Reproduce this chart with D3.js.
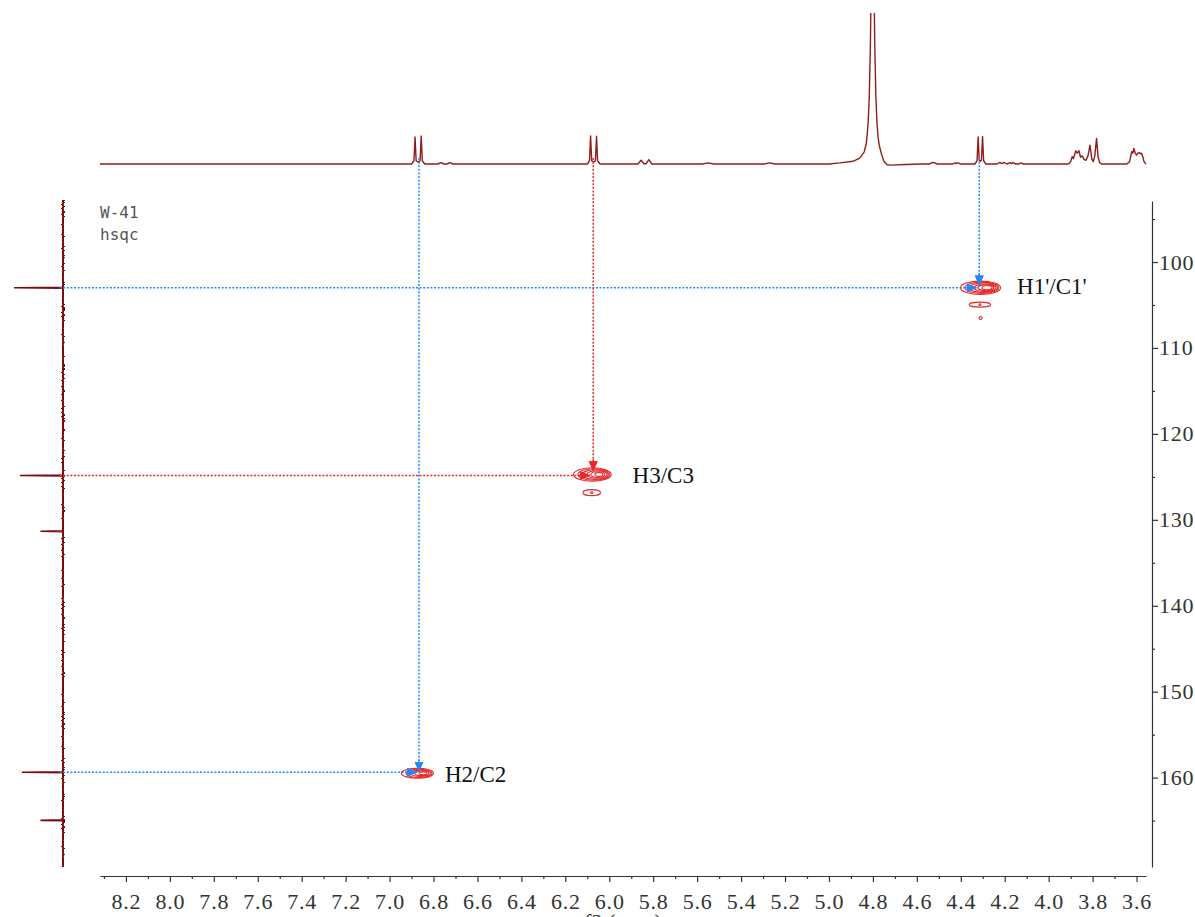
<!DOCTYPE html>
<html>
<head>
<meta charset="utf-8">
<script src="https://cdn.jsdelivr.net/npm/d3@7/dist/d3.min.js"></script>
<style>
  html, body { margin: 0; padding: 0; background: #fff; overflow: hidden; }
  svg { display: block; }
</style>
</head>
<body>
<div id="chart"></div>
<script>
// 1H trace on top: shift (ppm) and relative intensity
const topPpm = [
  8.318,
  6.900, 6.889, 6.884, 6.879, 6.870, 6.861, 6.856, 6.851, 6.840,
  6.780, 6.766, 6.752, 6.738, 6.725, 6.712,
  6.100, 6.090, 6.085, 6.080, 6.0715, 6.063, 6.058, 6.053, 6.042,
  5.870, 5.855, 5.842, 5.832, 5.820, 5.806,
  5.575, 5.550, 5.525, 5.295, 5.270, 5.245,
  5.000, 4.950, 4.890, 4.860, 4.840, 4.830, 4.8265, 4.8215, 4.8165, 4.8115, 4.809, 4.8045,
  4.8015, 4.7985, 4.794, 4.7915, 4.7865, 4.7815, 4.7765, 4.7715, 4.7615, 4.750, 4.735, 4.720, 4.650, 4.580,
  4.545, 4.526, 4.507, 4.435, 4.427, 4.420, 4.413, 4.400,
  4.336, 4.326, 4.321, 4.316, 4.311, 4.306, 4.301, 4.296, 4.286,
  4.235, 4.222, 4.213, 4.204, 4.190, 4.176, 4.169, 4.163, 4.150, 4.135, 4.127, 4.118,
  3.910, 3.900, 3.893, 3.887, 3.877, 3.870, 3.862, 3.855, 3.847, 3.838, 3.830, 3.821,
  3.812, 3.804, 3.797, 3.790, 3.782, 3.775, 3.768, 3.759,
  3.645, 3.632, 3.622, 3.617, 3.612, 3.606, 3.600, 3.594, 3.589, 3.583, 3.577, 3.571, 3.566, 3.557
];
const topInt = [
  0,
  0, 12, 100, 12, 7, 12, 104, 12, 0,
  0, 5, 0, 0, 5, 0,
  0, 12, 104, 12, 7, 12, 103, 12, 0,
  0, 14, 1, 1, 16, 0,
  0, 4, 0, 0, 4, 0,
  0, 4, 10, 22, 44, 76, 105, 155, 250, 440, 600, 1000,
  1140, 1000, 600, 440, 250, 152, 100, 70, 38, 10, -3, -4, -2, 0,
  0, 6, 0, 0, 4, 1, 4, 0,
  0, 12, 100, 14, 10, 14, 102, 12, 0,
  0, 6, 1, 6, 0, 5, 1, 5, 0, 0, 4, 0,
  0, 8, 27, 20, 49, 40, 49, 25, 30, 16, 14, 30,
  70, 20, 9, 30, 95, 25, 5, 0,
  0, 8, 46, 40, 58, 40, 33, 40, 42, 38, 40, 25, 9, 0
];

// 13C trace on the left: shift (ppm) and relative intensity
const leftPpm = [92.9, 102.95, 103.0, 103.05, 124.80, 124.85, 124.90, 131.28, 131.33, 131.38,
                 159.33, 159.38, 159.43, 164.92, 164.97, 165.02, 170.4];
const leftInt = [0, 0, 100, 0, 0, 88, 0, 0, 46, 0, 0, 84, 0, 0, 46, 0, 0];

// contour rings of the cross peaks: centre (f2, f1) and half widths in ppm
const ringH = [4.310, 4.304, 4.297, 4.290, 4.286, 4.281, 4.313, 4.313, 4.310,
               6.077, 6.070, 6.063, 6.056, 6.052, 6.047, 6.080, 6.080,
               6.873, 6.866, 6.860, 6.853, 6.848];
const ringC = [103.0, 103.0, 103.0, 103.0, 103.0, 103.0, 104.96, 104.96, 106.52,
               124.73, 124.73, 124.73, 124.73, 124.73, 124.73, 126.84, 126.84,
               159.5, 159.5, 159.5, 159.5, 159.5];
const ringHalfH = [0.091, 0.077, 0.064, 0.050, 0.036, 0.023, 0.049, 0.005, 0.007,
                   0.086, 0.073, 0.059, 0.046, 0.032, 0.018, 0.040, 0.005,
                   0.073, 0.059, 0.046, 0.032, 0.018];
const ringHalfC = [0.78, 0.66, 0.55, 0.44, 0.34, 0.23, 0.29, 0.10, 0.17,
                   0.79, 0.67, 0.56, 0.44, 0.33, 0.22, 0.35, 0.10,
                   0.58, 0.48, 0.37, 0.27, 0.17];

// assignments: dotted guide lines, arrow tips and labels
const annLabel = ["H1'/C1'", "H3/C3", "H2/C2"];
const annColor = ['#1e88ff', '#f0262a', '#1e88ff'];
const annH = [4.316, 6.073, 6.866];
const annC = [103.0, 124.85, 159.38];
const annTipC = [102.73, 124.36, 159.3];
const annTipH = [4.328, 6.088, 6.874];
const labelH = [4.144, 5.894, 6.748];
const labelC = [103.70, 125.69, 160.52];

// axis ticks
const f2Ticks = [8.2, 8.0, 7.8, 7.6, 7.4, 7.2, 7.0, 6.8, 6.6, 6.4, 6.2, 6.0,
                 5.8, 5.6, 5.4, 5.2, 5.0, 4.8, 4.6, 4.4, 4.2, 4.0, 3.8, 3.6];
const f2Minor = [8.3, 8.1, 7.9, 7.7, 7.5, 7.3, 7.1, 6.9, 6.7, 6.5, 6.3, 6.1,
                 5.9, 5.7, 5.5, 5.3, 5.1, 4.9, 4.7, 4.5, 4.3, 4.1, 3.9, 3.7];
const f1Ticks = [100, 110, 120, 130, 140, 150, 160];
const f1Minor = [95, 105, 115, 125, 135, 145, 155, 165];

const W = 1195, H = 917;
const svg = d3.select('#chart').append('svg').attr('width', W).attr('height', H);

const x = d3.scaleLinear().domain([8.318, 3.557]).range([100, 1146]);
const y = d3.scaleLinear().domain([92.9, 170.4]).range([201, 867]);
const yTop = d3.scaleLinear().domain([0, 100]).range([164, 137]);
const xLeft = d3.scaleLinear().domain([0, 100]).range([63, 14]);

const defs = svg.append('defs');
defs.append('clipPath').attr('id', 'topClip')
  .append('rect').attr('x', 90).attr('y', 13).attr('width', 1070).attr('height', 190);

// rough look of the noisy 13C baseline (rendering style only)
const rough = defs.append('filter').attr('id', 'rough')
  .attr('filterUnits', 'userSpaceOnUse')
  .attr('x', 50).attr('y', 195).attr('width', 26).attr('height', 680);
rough.append('feTurbulence').attr('type', 'fractalNoise')
  .attr('baseFrequency', '0.08 0.5').attr('numOctaves', 2).attr('seed', 3).attr('result', 'n');
rough.append('feDisplacementMap').attr('in', 'SourceGraphic').attr('in2', 'n')
  .attr('scale', 4).attr('xChannelSelector', 'R').attr('yChannelSelector', 'G');

// markers for the arrow heads
['#1e88ff', '#f0262a'].forEach((c, i) => {
  defs.append('marker').attr('id', 'arr' + i)
    .attr('markerUnits', 'userSpaceOnUse')
    .attr('markerWidth', 11).attr('markerHeight', 10)
    .attr('refX', 10).attr('refY', 4.5).attr('orient', 'auto')
    .append('path').attr('d', 'M0,0 L10,4.5 L0,9 Z').attr('fill', c);
});

// top 1H trace
const topLine = d3.line().x((d, i) => x(topPpm[i])).y((d, i) => yTop(topInt[i]));
svg.append('path').datum(topPpm)
  .attr('clip-path', 'url(#topClip)')
  .attr('d', topLine)
  .attr('fill', 'none').attr('stroke', '#8e1d1d').attr('stroke-width', 1.4)
  .attr('stroke-linejoin', 'round');

// left 13C trace: noisy baseline, then the clean peaks
svg.append('line')
  .attr('x1', xLeft(0)).attr('x2', xLeft(0))
  .attr('y1', y(y.domain()[0])).attr('y2', y(y.domain()[1]))
  .attr('filter', 'url(#rough)')
  .attr('stroke', '#7c0d0d').attr('stroke-width', 2);
const leftLine = d3.line().x((d, i) => xLeft(leftInt[i])).y((d, i) => y(leftPpm[i]));
svg.append('path').datum(leftPpm)
  .attr('d', leftLine)
  .attr('fill', 'none').attr('stroke', '#7c0d0d').attr('stroke-width', 1.6);

// guide lines
annLabel.forEach((lab, i) => {
  const m = annColor[i] === '#1e88ff' ? 'url(#arr0)' : 'url(#arr1)';
  svg.append('line')
    .attr('x1', x(annH[i])).attr('x2', x(annH[i]))
    .attr('y1', yTop(22)).attr('y2', y(annTipC[i]))
    .attr('stroke', annColor[i]).attr('stroke-width', 1.5)
    .attr('stroke-dasharray', '2,1.6').attr('marker-end', m);
  svg.append('line')
    .attr('x1', xLeft(7)).attr('x2', x(annTipH[i]))
    .attr('y1', y(annC[i])).attr('y2', y(annC[i]))
    .attr('stroke', annColor[i]).attr('stroke-width', 1.5)
    .attr('stroke-dasharray', '2,1.6').attr('marker-end', m);
});

// contours
svg.append('g').selectAll('ellipse').data(ringH).join('ellipse')
  .attr('cx', (d, i) => x(ringH[i]))
  .attr('cy', (d, i) => y(ringC[i]))
  .attr('rx', (d, i) => x(ringH[i] - ringHalfH[i]) - x(ringH[i]))
  .attr('ry', (d, i) => y(ringC[i] + ringHalfC[i]) - y(ringC[i]))
  .attr('fill', 'none').attr('stroke', '#e52b2b').attr('stroke-width', 1.1);

// re-draw arrow heads above contours
annLabel.forEach((lab, i) => {
  const m = annColor[i] === '#1e88ff' ? 'url(#arr0)' : 'url(#arr1)';
  svg.append('line')
    .attr('x1', x(annH[i])).attr('x2', x(annH[i]))
    .attr('y1', y(annTipC[i]) - 12).attr('y2', y(annTipC[i]))
    .attr('stroke', annColor[i]).attr('stroke-width', 1.5)
    .attr('stroke-dasharray', '2,1.6').attr('marker-end', m);
  svg.append('line')
    .attr('x1', x(annTipH[i]) - 12).attr('x2', x(annTipH[i]))
    .attr('y1', y(annC[i])).attr('y2', y(annC[i]))
    .attr('stroke', annColor[i]).attr('stroke-width', 1.5)
    .attr('stroke-dasharray', '2,1.6').attr('marker-end', m);
});

// labels
svg.append('g').selectAll('text').data(annLabel).join('text')
  .attr('x', (d, i) => x(labelH[i]))
  .attr('y', (d, i) => y(labelC[i]))
  .attr('font-family', '"Liberation Serif", "Times New Roman", serif')
  .attr('font-size', 23).attr('fill', '#111')
  .text(d => d);

// sample name
svg.append('text').attr('x', 100).attr('y', 218)
  .attr('font-family', '"DejaVu Sans Mono", monospace').attr('font-size', 16)
  .attr('fill', '#555').text('W-41');
svg.append('text').attr('x', 100).attr('y', 240)
  .attr('font-family', '"DejaVu Sans Mono", monospace').attr('font-size', 16)
  .attr('fill', '#555').text('hsqc');

// axes
const styleAxis = g => {
  g.attr('color', '#333').attr('font-family', '"Liberation Serif", serif').attr('font-size', 22);
  g.selectAll('path, line').attr('stroke-width', 1.2);
  g.selectAll('text').attr('letter-spacing', 0.8);
};

svg.append('g').attr('transform', 'translate(0,876)')
  .call(d3.axisBottom(x).tickValues(f2Minor).tickSize(3).tickSizeOuter(0).tickFormat(''))
  .call(styleAxis);
svg.append('g').attr('transform', 'translate(0,876)')
  .call(d3.axisBottom(x).tickValues(f2Ticks).tickSize(6).tickSizeOuter(0).tickPadding(11)
    .tickFormat(d3.format('.1f')))
  .call(styleAxis)
  .call(g => g.select('.domain').remove());

svg.append('g').attr('transform', 'translate(1152,0)')
  .call(d3.axisRight(y).tickValues(f1Minor).tickSize(3).tickSizeOuter(0).tickFormat(''))
  .call(styleAxis);
svg.append('g').attr('transform', 'translate(1152,0)')
  .call(d3.axisRight(y).tickValues(f1Ticks).tickSize(6).tickSizeOuter(0).tickPadding(1))
  .call(styleAxis)
  .call(g => g.select('.domain').remove());

// axis title sits below the tick labels and is cut by the bottom edge, as in the picture
svg.append('text').attr('x', (x.range()[0] + x.range()[1]) / 2).attr('y', 929)
  .attr('text-anchor', 'middle')
  .attr('font-family', '"Liberation Serif", serif').attr('font-size', 22).attr('fill', '#333')
  .text('f2 (ppm)');
</script>
</body>
</html>
